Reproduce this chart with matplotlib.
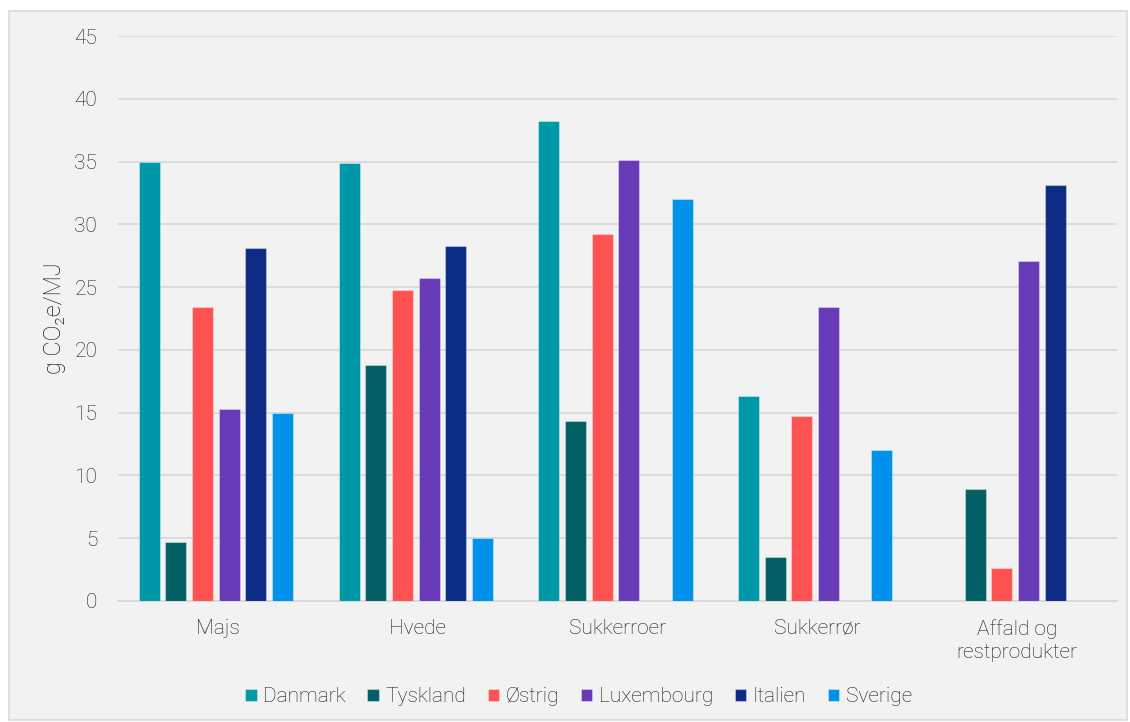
import matplotlib
matplotlib.use("Agg")
import matplotlib.pyplot as plt
import numpy as np
from matplotlib.patches import Rectangle

categories = ["Majs", "Hvede", "Sukkerroer", "Sukkerrør", "Affald og\nrestprodukter"]
countries = ["Danmark", "Tyskland", "Østrig", "Luxembourg", "Italien", "Sverige"]
danmark = [35.0, 34.9, 38.2, 16.3, np.nan]
tyskland = [4.7, 18.8, 14.3, 3.5, 8.9]
oestrig = [23.4, 24.8, 29.2, 14.7, 2.6]
luxembourg = [15.3, 25.7, 35.1, 23.4, 27.1]
italien = [28.1, 28.3, np.nan, np.nan, 33.1]
sverige = [15.0, 5.0, 32.0, 12.0, np.nan]
series = [danmark, tyskland, oestrig, luxembourg, italien, sverige]
colors = ["#0097A7", "#035F65", "#FF5252", "#673AB7", "#0D2C85", "#0091EA"]
yticks = [0, 5, 10, 15, 20, 25, 30, 35, 40, 45]

plt.rcParams['font.family'] = ['Roboto', 'DejaVu Sans']
text_color = "#1a1a1a"
fs = 15
fw = 'light'

fig = plt.figure(figsize=(11.3, 7.22), dpi=100, facecolor="white")
fig.patches.append(Rectangle((9/1130, 2/722), 1 - 12/1130, 1 - 13/722, transform=fig.transFigure,
                             facecolor="#F2F2F2", edgecolor="#D9D9D9", lw=1.2, zorder=-10))
ax = fig.add_axes([118/1130, 1 - 601/722, 999/1130, 565/722])
ax.set_facecolor("none")

x = np.arange(len(categories))
step = 0.1335
width = 0.105
for i, (vals, c, name) in enumerate(zip(series, colors, countries)):
    ax.bar(x + (i - 2.5) * step - 0.01, vals, width, color=c, label=name,
           edgecolor=(1, 1, 1, 0.35), linewidth=0.8, zorder=3)

ax.set_xlim(-0.5, len(categories) - 0.5)
ax.set_ylim(0, 45)
ax.set_yticks(yticks)
ax.set_xticks(x)
ax.set_xticklabels(categories, fontsize=fs, color=text_color, fontweight=fw, linespacing=1.3)
ax.set_yticklabels([str(t) for t in yticks], fontsize=fs, color=text_color, fontweight=fw)
ax.tick_params(axis='both', length=0)
ax.tick_params(axis='x', pad=13)
ax.tick_params(axis='y', pad=15)
ax.grid(axis='y', color="#D9D9D9", lw=1.3, zorder=0)
for s in ["top", "right", "left"]:
    ax.spines[s].set_visible(False)
ax.spines["bottom"].set_color("#D9D9D9")
ax.spines["bottom"].set_linewidth(1.3)
ax.set_ylabel("g CO\u2082e/MJ", fontsize=17, color=text_color, fontweight=fw, labelpad=6,
              family=['Roboto', 'DejaVu Sans'])

leg = fig.legend(loc="center", bbox_to_anchor=(0.512, 1 - 697/722), ncol=6, frameon=False,
                 fontsize=fs, handlelength=0.55, handleheight=0.55, handletextpad=0.3,
                 columnspacing=1.05)
for t in leg.get_texts():
    t.set_color(text_color)
    t.set_fontweight(fw)

fig.savefig("out.png", dpi=100, facecolor=fig.get_facecolor())
